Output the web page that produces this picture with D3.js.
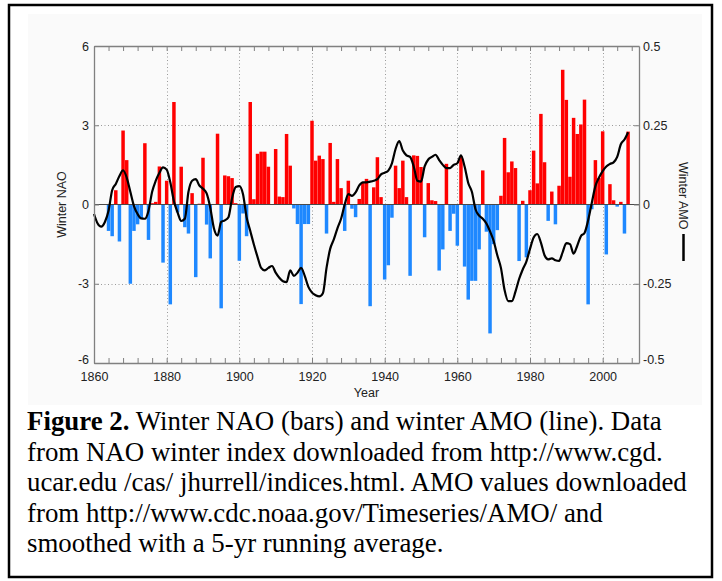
<!DOCTYPE html>
<html>
<head>
<meta charset="utf-8">
<script src="https://cdn.jsdelivr.net/npm/d3@7"></script>
<style>
  body { margin: 0; background: #fff; }
  svg { display: block; }
</style>
</head>
<body>
<div id="the_chart"></div>
<script>
// winter NAO index (bars), one value per year starting in 1864
var naoFirstYear = 1864;
var naoValues = [
  -1.0, -1.2, 0.54, -1.4, 2.8, 1.68, -3.0, -1.0, -0.75, -0.55,   // 1864-1873
  2.32, -1.34, 0.05, 0.1, 1.44, -2.2, 0.9, -3.78, 3.88, -0.3,    // 1874-1883
  1.43, -0.86, -1.1, 0.43, -2.75, 0.03, 1.77, -0.76, -2.04, 0.02, // 1884-1893
  2.68, -3.93, 1.1, 1.07, 1.0, 0.05, -2.13, -0.34, -1.2, 3.88,   // 1894-1903
  0.2, 1.92, 2.0, 2.0, 1.43, 0.0, 2.1, 0.3, 0.28, 2.67,          // 1904-1913
  1.47, -0.15, -0.74, -3.77, -0.74, -0.74, 3.17, 1.66, 1.85, 1.72, // 1914-1923
  -1.1, 2.33, 0.1, 1.72, 0.62, -1.0, 0.9, -0.16, -0.48, 0.21,    // 1924-1933
  0.84, 0.97, -3.85, 0.65, 1.79, 0.28, -2.84, -2.3, -0.5, 1.47,  // 1934-1943
  0.62, 1.66, 0.28, -2.7, 1.86, 1.84, 1.42, -1.24, 0.81, 0.16,   // 1944-1953
  0.13, -2.5, -1.7, 1.54, -1.0, -0.35, -1.56, 1.82, -2.35, -3.6, // 1954-1963
  -2.89, -2.89, -1.7, 1.29, -1.03, -4.88, -1.5, -0.97, 0.33, 2.52, // 1964-1973
  1.22, 1.63, 1.38, -2.14, 0.14, -2.0, 0.54, 2.04, 0.8, 3.43,    // 1974-1983
  1.6, -0.62, 0.49, -0.75, 0.71, 5.1, 3.96, 1.05, 3.28, 2.67,    // 1984-1993
  3.03, 3.97, -3.78, -0.18, 1.68, 1.0, 2.77, -1.89, 0.77, 0.16,  // 1994-2003
  -0.08, 0.1, -1.1, 2.76                                         // 2004-2007
];

// winter AMO, 5-yr running mean (line), one value per year starting in 1860
var amoFirstYear = 1860;
var amoValues = [
  -0.03, -0.06, -0.07, -0.055, -0.02, 0.045, 0.065, 0.09, 0.108, 0.085,   // 1860-1869
  0.04, -0.005, -0.03, -0.044, -0.045, -0.02, 0.04, 0.075, 0.1, 0.117,    // 1870-1879
  0.11, 0.07, 0.01, -0.025, -0.052, -0.045, 0.04, 0.075, 0.08, 0.06,      // 1880-1889
  0.05, 0.035, -0.01, -0.075, -0.098, -0.055, -0.05, -0.04, 0.02, 0.055,  // 1890-1899
  0.058, 0.033, -0.04, -0.083, -0.126, -0.165, -0.2, -0.208, -0.2, -0.194, // 1900-1909
  -0.215, -0.231, -0.242, -0.245, -0.208, -0.225, -0.215, -0.2, -0.225, -0.26, // 1910-1919
  -0.278, -0.286, -0.29, -0.28, -0.2, -0.14, -0.11, -0.075, -0.045, 0.0,  // 1920-1929
  0.033, 0.027, 0.038, 0.06, 0.07, 0.07, 0.072, 0.075, 0.08, 0.095,       // 1930-1939
  0.1, 0.107, 0.13, 0.175, 0.2, 0.17, 0.155, 0.15, 0.12, 0.075,           // 1940-1949
  0.072, 0.12, 0.142, 0.15, 0.157, 0.14, 0.125, 0.115, 0.115, 0.125,      // 1950-1959
  0.13, 0.155, 0.12, 0.068, 0.04, -0.015, -0.035, -0.045, -0.06, -0.085,  // 1960-1969
  -0.115, -0.16, -0.2, -0.27, -0.305, -0.305, -0.275, -0.235, -0.205, -0.18, // 1970-1979
  -0.14, -0.104, -0.093, -0.12, -0.16, -0.173, -0.17, -0.176, -0.178, -0.15, // 1980-1989
  -0.122, -0.125, -0.155, -0.13, -0.1, -0.09, -0.05, 0.005, 0.058, 0.085, // 1990-1999
  0.105, 0.12, 0.128, 0.133, 0.15, 0.19, 0.205, 0.228                     // 2000-2007
];

var yearTicks = [1860, 1880, 1900, 1920, 1940, 1960, 1980, 2000];
var naoTicks = [-6, -3, 0, 3, 6];
var amoTicks = [-0.5, -0.25, 0, 0.25, 0.5];

var captionLines = [
  "from NAO winter index downloaded from http://www.cgd.",
  "ucar.edu /cas/ jhurrell/indices.html. AMO values downloaded",
  "from http://www.cdc.noaa.gov/Timeseries/AMO/ and",
  "smoothed with a 5-yr running average."
];

function gen_vis() {
    var w = 722, h = 581;
    var left = 94, right = 639, top = 46, bottom = 363;

    var svg = d3.select("#the_chart").append("svg")
        .attr("width", w)
        .attr("height", h);

    // figure frame + faint background of the pasted chart image
    svg.append("rect")
        .attr("x", 9).attr("y", 5).attr("width", 703).attr("height", 572)
        .attr("fill", "#fff").attr("stroke", "#000").attr("stroke-width", 2.5);
    svg.append("rect")
        .attr("x", 28).attr("y", 14).attr("width", 674).attr("height", 391)
        .attr("fill", "#fafafa");

    var naoData = naoValues.map(function (v, i) { return { year: naoFirstYear + i, v: v }; });
    var amoData = amoValues.map(function (v, i) { return { year: amoFirstYear + i, v: v }; });

    var xscale = d3.scaleLinear().domain([1860, 2010]).range([left, right]);
    var yscale = d3.scaleLinear().domain([-6, 6]).range([bottom, top]);
    var ascale = d3.scaleLinear().domain([-0.5, 0.5]).range([bottom, top]);

    var bw = (xscale(1861) - xscale(1860)) * 0.96;
    var minorYears = d3.range(1860, 2010, 4);

    // dotted grid
    var grid = svg.append("g").attr("stroke", "#9a9a9a").attr("stroke-width", 1)
        .attr("stroke-dasharray", "1,2.5");
    grid.selectAll("line.gx")
        .data(yearTicks.filter(function (d) { return d > 1860; }))
        .enter().append("line")
        .attr("x1", function (d) { return Math.round(xscale(d)) + 0.5; })
        .attr("x2", function (d) { return Math.round(xscale(d)) + 0.5; })
        .attr("y1", top).attr("y2", bottom);
    grid.selectAll("line.gy")
        .data([-3, 3])
        .enter().append("line")
        .attr("x1", left).attr("x2", right)
        .attr("y1", function (d) { return Math.round(yscale(d)) + 0.5; })
        .attr("y2", function (d) { return Math.round(yscale(d)) + 0.5; });

    // bars
    svg.selectAll("rect.bar")
        .data(naoData)
        .enter().append("rect")
        .attr("class", "bar")
        .attr("x", function (d) { return xscale(d.year) - bw / 2; })
        .attr("width", bw)
        .attr("y", function (d) { return yscale(Math.max(0, d.v)); })
        .attr("height", function (d) { return Math.abs(yscale(d.v) - yscale(0)); })
        .attr("fill", function (d) { return d.v >= 0 ? "#ff0000" : "#1e88ff"; });

    // zero line
    svg.append("line")
        .attr("x1", left).attr("x2", right)
        .attr("y1", yscale(0)).attr("y2", yscale(0))
        .attr("stroke", "#4a4a4a").attr("stroke-width", 1.2);

    // AMO line
    var line = d3.line()
        .x(function (d) { return xscale(d.year); })
        .y(function (d) { return ascale(d.v); })
        .curve(d3.curveMonotoneX);
    svg.append("path")
        .datum(amoData)
        .attr("d", line)
        .attr("fill", "none")
        .attr("stroke", "#000")
        .attr("stroke-width", 2.2)
        .attr("stroke-linejoin", "round");

    // axes
    var font = "'Liberation Sans', Arial, sans-serif";

    var xaxis = d3.axisBottom(xscale).tickValues(minorYears).tickSizeInner(-5).tickSizeOuter(0)
        .tickPadding(10)
        .tickFormat(function (d) { return yearTicks.indexOf(d) >= 0 ? d : ""; });
    svg.append("g").attr("class", "xaxis")
        .attr("transform", "translate(0," + bottom + ")")
        .call(xaxis);

    var xtop = d3.axisTop(xscale).tickValues(minorYears).tickSizeInner(-5).tickSizeOuter(0)
        .tickFormat("");
    svg.append("g").attr("class", "xaxis")
        .attr("transform", "translate(0," + top + ")")
        .call(xtop);

    var yaxis = d3.axisLeft(yscale).tickValues(naoTicks).tickSizeInner(-5).tickSizeOuter(0)
        .tickPadding(5).tickFormat(function (d) { return String(d); });
    svg.append("g").attr("class", "yaxis")
        .attr("transform", "translate(" + left + ",0)")
        .call(yaxis);

    var aaxis = d3.axisRight(ascale).tickValues(amoTicks).tickSizeInner(-5).tickSizeOuter(0)
        .tickPadding(4).tickFormat(function (d) { return String(d); });
    svg.append("g").attr("class", "yaxis")
        .attr("transform", "translate(" + right + ",0)")
        .call(aaxis);

    svg.selectAll(".xaxis path, .yaxis path").attr("stroke", "#808080").attr("stroke-width", 1.3);
    svg.selectAll(".xaxis line, .yaxis line").attr("stroke", "#808080");
    svg.selectAll(".xaxis text, .yaxis text")
        .style("font-family", font).style("font-size", "12.5px").attr("fill", "#222");
    svg.selectAll(".xaxis text").attr("dy", "0.6em");
    // the -6 label sits a little above the corner, as in the original
    svg.selectAll(".yaxis .tick").filter(function (d) { return d === -6 || d === -0.5; })
        .select("text").attr("dy", "0.05em");

    // axis titles
    svg.append("text")
        .attr("transform", "translate(66," + yscale(0) + ") rotate(-90)")
        .attr("text-anchor", "middle")
        .style("font-family", font).style("font-size", "12.5px").attr("fill", "#222")
        .text("Winter NAO");

    svg.append("text")
        .attr("x", xscale(1935)).attr("y", 397)
        .attr("text-anchor", "middle")
        .style("font-family", font).style("font-size", "12.5px").attr("fill", "#222")
        .text("Year");

    var amoLabel = svg.append("g").attr("transform", "translate(679,162) rotate(90)");
    amoLabel.append("text")
        .attr("x", 0).attr("y", 0)
        .style("font-family", font).style("font-size", "12.5px").attr("fill", "#222")
        .text("Winter AMO");
    amoLabel.append("line")
        .attr("x1", 72).attr("x2", 99).attr("y1", -4.5).attr("y2", -4.5)
        .attr("stroke", "#000").attr("stroke-width", 2.5);

    // caption, sized so the first line spans the same width as the original
    var serif = "'Liberation Serif', 'Times New Roman', serif";
    var cap = svg.append("g")
        .style("font-family", serif).style("font-size", "21px").attr("fill", "#000");
    var first = cap.append("text").attr("x", 27).attr("y", 430);
    first.append("tspan").style("font-weight", "bold").text("Figure 2.");
    first.append("tspan").text(" Winter NAO (bars) and winter AMO (line). Data");
    var fs = 21 * 635 / first.node().getComputedTextLength();
    cap.style("font-size", fs + "px");
    cap.selectAll("text.cl")
        .data(captionLines)
        .enter().append("text")
        .attr("class", "cl")
        .attr("x", 27)
        .attr("y", function (d, i) { return 460.5 + i * 30.5; })
        .text(function (d) { return d; });
}

gen_vis();
</script>
</body>
</html>
